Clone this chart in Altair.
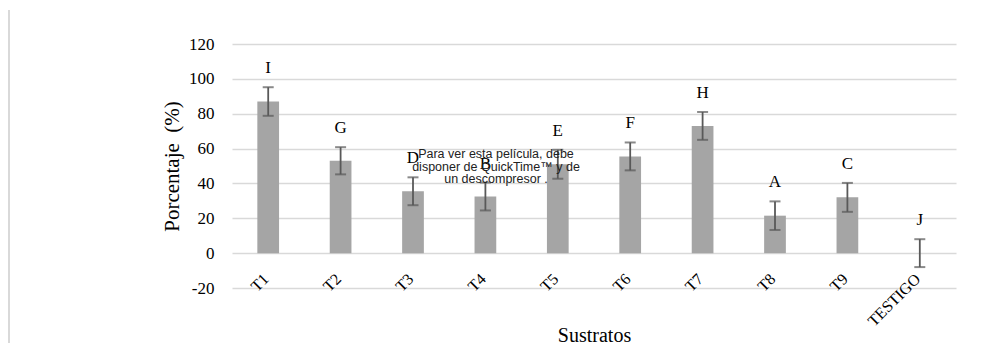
import altair as alt
import pandas as pd

categories = ["T1", "T2", "T3", "T4", "T5", "T6", "T7", "T8", "T9", "TESTIGO"]
values = [87, 53, 35.5, 32.5, 51, 55.5, 73, 21.5, 32, 0]
errors = [8.2, 7.8, 8, 8, 8.3, 8, 8, 8.2, 8.3, 8]
letters = ["I", "G", "D", "B", "E", "F", "H", "A", "C", "J"]
y_ticks = [-20, 0, 20, 40, 60, 80, 100, 120]
note = ["Para ver esta película, debe", "disponer de QuickTime™ y de", "un descompresor ."]

df = pd.DataFrame({
    "cat": categories,
    "val": values,
    "lo": [v - e for v, e in zip(values, errors)],
    "hi": [v + e for v, e in zip(values, errors)],
    "letter": letters,
})

SERIF = "Liberation Serif"

x_axis = alt.Axis(title="Sustratos", labelAngle=-45, labelAlign="right",
                  labelBaseline="middle", labelPadding=-12, labelOffset=-2,
                  domain=False, ticks=False, grid=False,
                  labelFont=SERIF, labelFontSize=16, labelColor="#000000",
                  titleFont=SERIF, titleFontSize=20, titleFontWeight="normal",
                  titleColor="#000000", titleY=53, titleBaseline="alphabetic")
y_axis = alt.Axis(title="Porcentaje \u00a0(%)", values=y_ticks, domain=False, ticks=False,
                  gridColor="#d9d9d9", gridWidth=1.5, labelPadding=18,
                  labelOverlap=False, labelExpr="datum.value + ''",
                  labelFont=SERIF, labelFontSize=17, labelColor="#000000",
                  titleFont=SERIF, titleFontSize=21, titleFontWeight="normal",
                  titleColor="#000000", titleX=-60, titleY=122,
                  titleBaseline="middle", titleAlign="center")

x_scale = alt.Scale(paddingInner=0.7, paddingOuter=0.35)
y_scale = alt.Scale(domain=[-20, 120], nice=False, zero=False)

xe = alt.X("cat:N", sort=categories, scale=x_scale, axis=x_axis)

base = alt.Chart(df)

bars = base.mark_bar(color="#a5a5a5").encode(
    x=xe, y=alt.Y("val:Q", scale=y_scale, axis=y_axis))

err_rule = base.mark_rule(color="#595959", strokeWidth=1.8).encode(
    x=xe, y=alt.Y("lo:Q", scale=y_scale, axis=y_axis), y2="hi:Q")
cap_lo = base.mark_tick(color="#595959", size=11, thickness=2, orient="horizontal").encode(
    x=xe, y=alt.Y("lo:Q", scale=y_scale, axis=y_axis))
cap_hi = base.mark_tick(color="#595959", size=11, thickness=2, orient="horizontal").encode(
    x=xe, y=alt.Y("hi:Q", scale=y_scale, axis=y_axis))

labels = base.mark_text(font=SERIF, fontSize=17, color="#000000", dy=-19,
                        baseline="middle").encode(
    x=xe, y=alt.Y("hi:Q", scale=y_scale, axis=y_axis), text="letter:N")

note_df = pd.DataFrame({"t": [note]})
note_text = alt.Chart(note_df).mark_text(font="Liberation Sans", fontSize=12.5,
                                         color="#222222", lineHeight=12.5,
                                         baseline="top", align="center").encode(
    x=alt.value(264), y=alt.value(104), text="t")

left_line = alt.Chart(note_df).mark_rule(color="#d9d9d9", strokeWidth=2).encode(
    x=alt.value(-223), y=alt.value(-34), y2=alt.value(306))

chart = alt.layer(bars, err_rule, cap_lo, cap_hi, labels, note_text, left_line).properties(
    width=724, height=244,
    background="#ffffff",
    autosize=alt.AutoSizeParams(type="none"),
    padding={"left": 224, "top": 36, "right": 30, "bottom": 55},
).configure_axisY(labelOverlap=False).configure_view(stroke=None, strokeWidth=0)

chart.save("out.html", embed_options={"renderer": "svg", "actions": False})
